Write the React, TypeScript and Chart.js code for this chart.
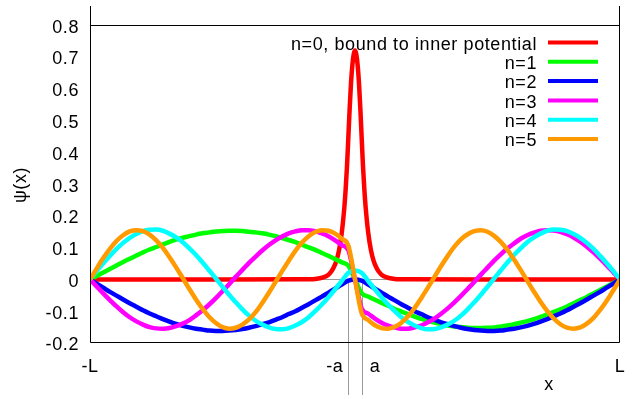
import React, { useEffect, useRef } from "react";
import { Chart, registerables } from "chart.js";

Chart.register(...registerables);

// ---- data ----
const seriesLabels = [
  "n=0, bound to inner potential",
  "n=1",
  "n=2",
  "n=3",
  "n=4",
  "n=5",
];
const seriesColors = ["#ff0000", "#00ff00", "#0000ff", "#ff00ff", "#00ffff", "#ff9a00"];

// x in units of L (box from -L to L), inner well from -a to a
const wellEdges = [-0.025, 0.025];

// ground state (bound to inner potential)
const xsBound = [
  -1, -0.5, -0.2, -0.15, -0.12, -0.1, -0.09, -0.08, -0.07, -0.06, -0.05, -0.04, -0.035, -0.03,
  -0.025, -0.02, -0.015, -0.01, -0.005, 0, 0.005, 0.01, 0.015, 0.02, 0.025, 0.03, 0.035, 0.04,
  0.05, 0.06, 0.07, 0.08, 0.09, 0.1, 0.12, 0.15, 0.2, 0.5, 1,
];
const psi0 = [
  0, 0, 0.0002, 0.0016, 0.0063, 0.015, 0.024, 0.038, 0.059, 0.093, 0.146, 0.229, 0.287, 0.359,
  0.449, 0.54, 0.618, 0.674, 0.708, 0.72, 0.708, 0.674, 0.618, 0.54, 0.449, 0.359, 0.287, 0.229,
  0.146, 0.093, 0.059, 0.038, 0.024, 0.015, 0.0063, 0.0016, 0.0002, 0, 0,
];

// excited states sampled on a common grid
const xsBox = [
  -1, -0.975, -0.95, -0.925, -0.9, -0.875, -0.85, -0.825, -0.8, -0.775, -0.75, -0.725, -0.7,
  -0.675, -0.65, -0.625, -0.6, -0.575, -0.55, -0.525, -0.5, -0.475, -0.45, -0.425, -0.4, -0.375,
  -0.35, -0.325, -0.3, -0.275, -0.25, -0.225, -0.2, -0.175, -0.15, -0.125, -0.1, -0.075, -0.05,
  -0.025, 0, 0.025, 0.05, 0.075, 0.1, 0.125, 0.15, 0.175, 0.2, 0.225, 0.25, 0.275, 0.3, 0.325,
  0.35, 0.375, 0.4, 0.425, 0.45, 0.475, 0.5, 0.525, 0.55, 0.575, 0.6, 0.625, 0.65, 0.675, 0.7,
  0.725, 0.75, 0.775, 0.8, 0.825, 0.85, 0.875, 0.9, 0.925, 0.95, 0.975, 1,
];
const psi1 = [
  0, 0.011, 0.022, 0.033, 0.044, 0.055, 0.065, 0.075, 0.085, 0.094, 0.102, 0.11, 0.118, 0.125,
  0.131, 0.136, 0.141, 0.145, 0.148, 0.151, 0.152, 0.153, 0.153, 0.152, 0.15, 0.148, 0.145, 0.141,
  0.136, 0.13, 0.124, 0.117, 0.109, 0.101, 0.093, 0.083, 0.074, 0.064, 0.054, 0.043,
  0,
  -0.043, -0.054, -0.064, -0.074, -0.083, -0.093, -0.101, -0.109, -0.117, -0.124, -0.13, -0.136,
  -0.141, -0.145, -0.148, -0.15, -0.152, -0.153, -0.153, -0.152, -0.151, -0.148, -0.145, -0.141,
  -0.136, -0.131, -0.125, -0.118, -0.11, -0.102, -0.094, -0.085, -0.075, -0.065, -0.055, -0.044,
  -0.033, -0.022, -0.011, 0,
];
const psi2 = [
  0, -0.013, -0.026, -0.039, -0.051, -0.063, -0.075, -0.086, -0.097, -0.107, -0.116, -0.125,
  -0.133, -0.14, -0.146, -0.151, -0.155, -0.158, -0.161, -0.162, -0.162, -0.161, -0.159, -0.156,
  -0.152, -0.147, -0.141, -0.135, -0.127, -0.119, -0.109, -0.1, -0.089, -0.078, -0.066, -0.054,
  -0.042, -0.029, -0.016, -0.004,
  0,
  -0.004, -0.016, -0.029, -0.042, -0.054, -0.066, -0.078, -0.089, -0.1, -0.109, -0.119, -0.127,
  -0.135, -0.141, -0.147, -0.152, -0.156, -0.159, -0.161, -0.162, -0.162, -0.161, -0.158, -0.155,
  -0.151, -0.146, -0.14, -0.133, -0.125, -0.116, -0.107, -0.097, -0.086, -0.075, -0.063, -0.051,
  -0.039, -0.026, -0.013, 0,
];
const psi3 = [
  0, -0.022, -0.044, -0.065, -0.085, -0.103, -0.119, -0.132, -0.142, -0.15, -0.154, -0.155,
  -0.153, -0.147, -0.139, -0.128, -0.113, -0.097, -0.079, -0.059, -0.037, -0.015, 0.008, 0.03,
  0.052, 0.072, 0.091, 0.108, 0.123, 0.135, 0.145, 0.151, 0.155, 0.155, 0.151, 0.145, 0.136, 0.123,
  0.108, 0.091,
  0,
  -0.091, -0.108, -0.123, -0.136, -0.145, -0.151, -0.155, -0.155, -0.151, -0.145, -0.135, -0.123,
  -0.108, -0.091, -0.072, -0.052, -0.03, -0.008, 0.015, 0.037, 0.059, 0.079, 0.097, 0.113, 0.128,
  0.139, 0.147, 0.153, 0.155, 0.154, 0.15, 0.142, 0.132, 0.119, 0.103, 0.085, 0.065, 0.044, 0.022,
  0,
];
const psi4 = [
  0, 0.026, 0.051, 0.074, 0.096, 0.115, 0.131, 0.143, 0.152, 0.156, 0.157, 0.153, 0.144, 0.132,
  0.117, 0.098, 0.077, 0.053, 0.028, 0.003, -0.023, -0.048, -0.072, -0.094, -0.114, -0.13, -0.142,
  -0.151, -0.156, -0.157, -0.153, -0.145, -0.134, -0.119, -0.1, -0.079, -0.056, -0.031, -0.005,
  0.021,
  0.028,
  0.021, -0.005, -0.031, -0.056, -0.079, -0.1, -0.119, -0.134, -0.145, -0.153, -0.157, -0.156,
  -0.151, -0.142, -0.13, -0.114, -0.094, -0.072, -0.048, -0.023, 0.003, 0.028, 0.053, 0.077, 0.098,
  0.117, 0.132, 0.144, 0.153, 0.157, 0.156, 0.152, 0.143, 0.131, 0.115, 0.096, 0.074, 0.051, 0.026,
  0,
];
const psi5 = [
  0, 0.034, 0.067, 0.096, 0.121, 0.139, 0.151, 0.155, 0.152, 0.141, 0.123, 0.099, 0.07, 0.038,
  0.004, -0.03, -0.063, -0.093, -0.118, -0.137, -0.15, -0.155, -0.152, -0.142, -0.126, -0.103,
  -0.074, -0.042, -0.008, 0.026, 0.059, 0.09, 0.116, 0.136, 0.149, 0.155, 0.153, 0.144, 0.128,
  0.106,
  0,
  -0.106, -0.128, -0.144, -0.153, -0.155, -0.149, -0.136, -0.116, -0.09, -0.059, -0.026, 0.008,
  0.042, 0.074, 0.103, 0.126, 0.142, 0.152, 0.155, 0.15, 0.137, 0.118, 0.093, 0.063, 0.03, -0.004,
  -0.038, -0.07, -0.099, -0.123, -0.141, -0.152, -0.155, -0.151, -0.139, -0.121, -0.096, -0.067,
  -0.034, 0,
];

const yTickValues = [-0.2, -0.1, 0, 0.1, 0.2, 0.3, 0.4, 0.5, 0.6, 0.7, 0.8];
const yTickLabels = ["-0.2", "-0.1", "0", "0.1", "0.2", "0.3", "0.4", "0.5", "0.6", "0.7", "0.8"];
const xTickValues = [-1, -0.025, 0.025, 1];
const xTickLabels = ["-L", "-a", "a", "L"];
const xTitle = "x";
const yTitle = "ψ(x)";

const FONT_FAMILY = '"Liberation Sans", Arial, Helvetica, sans-serif';
const FONT_SIZE = 18;
const LETTER_SPACING = "0.6px";

const decorPlugin = {
  id: "decor",
  beforeDraw(chart: any) {
    (chart.ctx as any).letterSpacing = LETTER_SPACING;
  },
  beforeDatasetsDraw(chart: any) {
    const { ctx, chartArea: a, scales } = chart;
    const x = scales.x;
    const y = scales.y;
    ctx.save();
    ctx.strokeStyle = "#999999";
    ctx.lineWidth = 1;
    const y0 = Math.round(y.getPixelForValue(0)) + 0.5;
    ctx.beginPath();
    ctx.moveTo(a.left, y0);
    ctx.lineTo(a.right, y0);
    ctx.stroke();
    wellEdges.forEach((v) => {
      const px = Math.round(x.getPixelForValue(v)) + 0.5;
      ctx.beginPath();
      ctx.moveTo(px, y0);
      ctx.lineTo(px, 395);
      ctx.stroke();
    });
    ctx.restore();
  },
  afterDatasetsDraw(chart: any) {
    const { ctx, chartArea: a, scales } = chart;
    const x = scales.x;
    const y = scales.y;
    ctx.save();
    (ctx as any).letterSpacing = LETTER_SPACING;
    // frame: left, right, bottom, and the line at the top tick
    ctx.strokeStyle = "#000000";
    ctx.lineWidth = 1;
    const l = Math.round(a.left) + 0.5;
    const r = Math.round(a.right) - 0.5;
    const b = Math.round(a.bottom) - 0.5;
    const t = Math.round(a.top);
    const yTop = Math.round(y.getPixelForValue(yTickValues[yTickValues.length - 1])) + 0.5;
    ctx.beginPath();
    ctx.moveTo(l, t);
    ctx.lineTo(l, b);
    ctx.lineTo(r, b);
    ctx.lineTo(r, t);
    ctx.moveTo(l, yTop);
    ctx.lineTo(r, yTop);
    ctx.stroke();

    ctx.fillStyle = "#000000";
    ctx.font = `${FONT_SIZE}px ${FONT_FAMILY}`;
    ctx.textBaseline = "alphabetic";
    // x tick labels
    xTickValues.forEach((v, i) => {
      const px = x.getPixelForValue(v);
      let tx = px;
      if (xTickLabels[i] === "-a") {
        ctx.textAlign = "right";
        tx = px - 5;
      } else if (xTickLabels[i] === "a") {
        ctx.textAlign = "left";
        tx = px + 8;
      } else {
        ctx.textAlign = "center";
      }
      ctx.fillText(xTickLabels[i], tx, 371.5);
    });
    // x title
    ctx.textAlign = "center";
    ctx.fillText(xTitle, 549, 390);
    // y title
    ctx.save();
    ctx.translate(21.5, 185);
    ctx.rotate(-Math.PI / 2);
    ctx.textAlign = "center";
    ctx.textBaseline = "middle";
    ctx.fillText(yTitle, 0, 0);
    ctx.restore();

    // legend
    seriesLabels.forEach((lab, i) => {
      const ly = 42.5 + 19.3 * i;
      ctx.textAlign = "right";
      ctx.textBaseline = "alphabetic";
      ctx.fillStyle = "#000000";
      ctx.fillText(lab, 537, ly + 7.2);
      ctx.strokeStyle = seriesColors[i];
      ctx.lineWidth = 4;
      ctx.beginPath();
      ctx.moveTo(548, ly);
      ctx.lineTo(598, ly);
      ctx.stroke();
    });
    ctx.restore();
  },
};

export default function App() {
  const canvasRef = useRef<HTMLCanvasElement | null>(null);

  useEffect(() => {
    const canvas = canvasRef.current;
    if (!canvas) return;
    const boxSeries = [psi1, psi2, psi3, psi4, psi5];
    const datasets = [
      {
        label: seriesLabels[0],
        data: xsBound.map((xv, i) => ({ x: xv, y: psi0[i] })),
        borderColor: seriesColors[0],
        order: 5,
      },
      ...boxSeries.map((ys, k) => ({
        label: seriesLabels[k + 1],
        data: xsBox.map((xv, i) => ({ x: xv, y: ys[i] })),
        borderColor: seriesColors[k + 1],
        order: 4 - k,
      })),
    ].map((d) => ({
      ...d,
      borderWidth: 4.5,
      pointRadius: 0,
      fill: false,
      cubicInterpolationMode: "monotone" as const,
    }));

    const chart = new Chart(canvas, {
      type: "line",
      data: { datasets },
      options: {
        animation: false,
        responsive: false,
        devicePixelRatio: 1,
        layout: { autoPadding: false, padding: { left: 0, right: 14, top: 6, bottom: 0 } },
        plugins: {
          legend: { display: false },
          tooltip: { enabled: false },
        },
        scales: {
          x: {
            type: "linear",
            min: -1,
            max: 1,
            grid: { display: false, drawTicks: false },
            border: { display: false },
            ticks: { display: false },
            afterFit: (s: any) => {
              s.height = 56;
              s.paddingLeft = 0;
              s.paddingRight = 0;
            },
          },
          y: {
            type: "linear",
            min: -0.2,
            max: 0.86,
            grid: { display: false, drawTicks: false },
            border: { display: false },
            afterBuildTicks: (s: any) => {
              s.ticks = yTickValues.map((v) => ({ value: v }));
            },
            ticks: {
              padding: 11,
              color: "#000000",
              labelOffset: 2.5,
              font: { family: FONT_FAMILY, size: FONT_SIZE },
              callback: (v: any) => {
                const idx = yTickValues.findIndex((t) => Math.abs(t - v) < 1e-9);
                return idx >= 0 ? yTickLabels[idx] : "";
              },
            },
            afterFit: (s: any) => {
              s.width = 90;
              s.paddingTop = 0;
              s.paddingBottom = 0;
            },
          },
        },
      },
      plugins: [decorPlugin],
    });
    return () => chart.destroy();
  }, []);

  return (
    <div style={{ position: "absolute", left: 0, top: 0, width: 634, height: 399, background: "#ffffff" }}>
      <canvas ref={canvasRef} width={634} height={399} style={{ display: "block" }} />
    </div>
  );
}
